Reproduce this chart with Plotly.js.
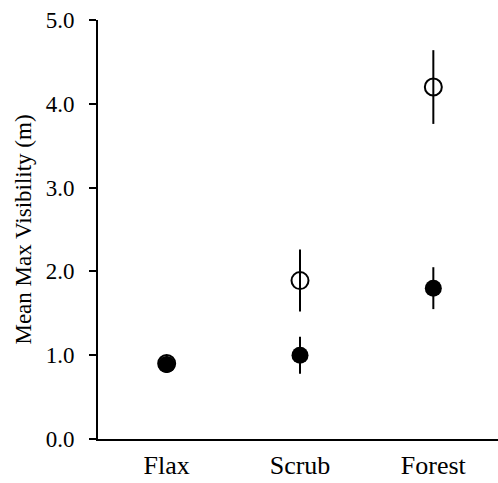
<!DOCTYPE html>
<html>
<head>
<meta charset="utf-8">
<script src="https://cdn.plot.ly/plotly-3.0.1.min.js"></script>
<style>html,body{margin:0;padding:0;background:#fff;}#chart{width:498px;height:483px;}</style>
</head>
<body>
<div id="chart"></div>
<script>
var categories = ["Flax", "Scrub", "Forest"];
var openMeans = [0.90, 1.89, 4.20];
var openErrors = [0.06, 0.37, 0.44];
var filledMeans = [0.89, 1.00, 1.80];
var filledErrors = [0.10, 0.22, 0.25];
var yTicks = [0, 1, 2, 3, 4, 5];

var fontFamily = '"Liberation Serif", "Times New Roman", serif';

var traces = [
  {
    type: 'scatter', mode: 'markers', x: categories, y: openMeans,
    error_y: {type: 'data', array: openErrors, visible: true, color: '#000', thickness: 2, width: 0},
    marker: {symbol: 'circle-open', size: 17, color: '#000', line: {width: 2, color: '#000'}},
    showlegend: false, hoverinfo: 'skip'
  },
  {
    type: 'scatter', mode: 'markers', x: categories, y: filledMeans,
    error_y: {type: 'data', array: filledErrors, visible: true, color: '#000', thickness: 2, width: 0},
    marker: {symbol: 'circle', size: 17, color: '#000', line: {width: 0}},
    showlegend: false, hoverinfo: 'skip'
  }
];

var layout = {
  width: 498, height: 483,
  margin: {l: 98, r: 0, t: 20, b: 44},
  paper_bgcolor: '#fff', plot_bgcolor: '#fff',
  font: {family: fontFamily, color: '#000', size: 22},
  showlegend: false,
  xaxis: {
    type: 'category', range: [-0.515, 2.485],
    showline: true, linecolor: '#000', linewidth: 2,
    showgrid: false, zeroline: false, ticks: '',
    tickfont: {family: fontFamily, size: 26, color: '#000'},
    ticklabelstandoff: 2
  },
  yaxis: {
    range: [0, 5], tickvals: yTicks, tickformat: '.1f',
    showline: true, linecolor: '#000', linewidth: 2,
    showgrid: false, zeroline: false,
    ticks: 'outside', ticklen: 7, tickwidth: 2, tickcolor: '#000',
    tickfont: {family: fontFamily, size: 23, color: '#000'},
    ticklabelstandoff: 10,
    title: {text: 'Mean Max Visibility (m)', font: {family: fontFamily, size: 23, color: '#000'}, standoff: 8}
  }
};

Plotly.newPlot('chart', traces, layout, {displayModeBar: false, staticPlot: true});
</script>
</body>
</html>
